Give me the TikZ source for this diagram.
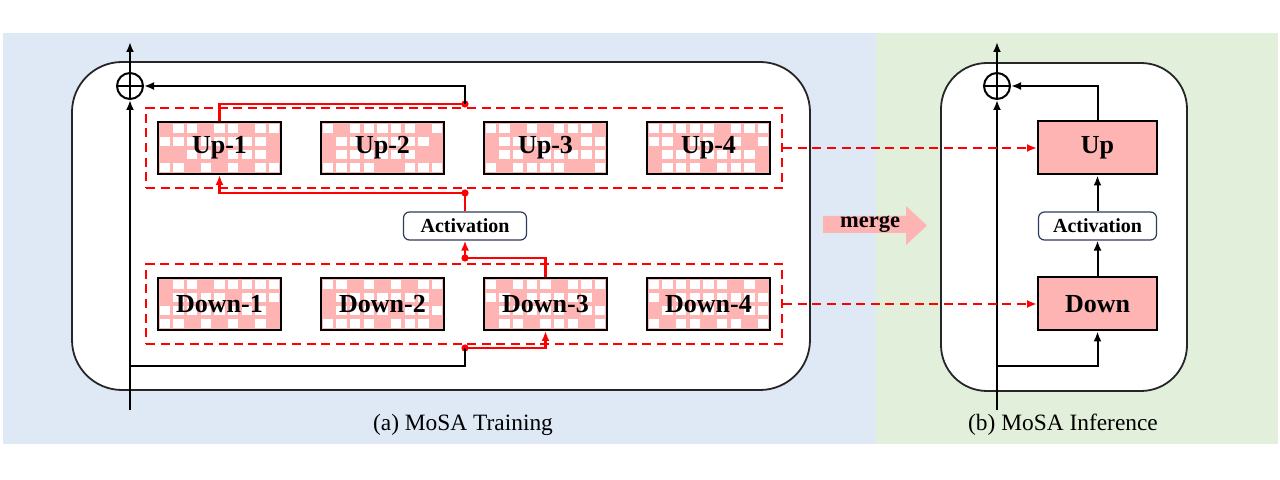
\documentclass[tikz,border=0pt]{standalone}
\usepackage{fontspec}
\setmainfont{Liberation Serif}
\usepackage{tikz}
\usetikzlibrary{arrows.meta, positioning, calc, fit}
\definecolor{bgblue}{HTML}{DEE9F5}
\definecolor{bggreen}{HTML}{E2EFDA}
\definecolor{lrpink}{HTML}{FFB4B4}
\definecolor{cred}{HTML}{FF0000}
\definecolor{cnavy}{HTML}{2F3B5C}
\definecolor{cframe}{HTML}{262626}

% pink/white grid behind a low-rank box: #1,#2 top-left corner, #3 pink cells
\newcommand{\lrgrid}[3]{
  \fill[lrpink] (#1,#2) rectangle ++(123,52);
  \foreach \c in {0,...,8}{
    \foreach \r in {0,...,3}{
      \fill[white] ({#1+\c*13.667+1.6},{#2+\r*13+1.6}) rectangle ++(10.4,9.8);
    }
  }
  \foreach \c/\r in {#3}{
    \fill[lrpink] ({#1+\c*13.667},{#2+\r*13}) rectangle ++(13.667,13);
  }
}

\begin{document}
\begin{tikzpicture}[x=0.5pt, y=-0.5pt,
  lrbox/.style={draw, line width=1pt, minimum width=61.5pt, minimum height=26pt, inner sep=0pt,
    font=\bfseries\fontsize{13}{15}\selectfont},
  actbox/.style={draw=cnavy, line width=0.6pt, rounded corners=3pt, fill=white, minimum width=61.5pt,
    minimum height=14pt, inner sep=0pt, font=\bfseries\fontsize{10}{12}\selectfont},
  addsym/.style={circle, draw, line width=1pt, minimum size=13pt, inner sep=0pt,
    path picture={\draw[line width=1pt] (path picture bounding box.west) -- (path picture bounding box.east)
      (path picture bounding box.north) -- (path picture bounding box.south);}},
  grp/.style={draw=cred, dashed, dash pattern=on 4.5pt off 2.8pt, line width=1.1pt, inner xsep=5.5pt, inner ysep=6.5pt},
  blk/.style={line width=1pt, -{Latex[length=5pt,width=4pt]}},
  rd/.style={cred, line width=1.1pt, -{Latex[length=5pt,width=4pt]}},
  dot/.style={circle, fill=cred, inner sep=0pt, minimum size=3.6pt}]
  \useasboundingbox (0,0) rectangle (1280,480);

  % backgrounds
  \fill[bgblue] (3,33) rectangle (876,444);
  \fill[bggreen] (876,33) rectangle (1278,444);
  \draw[cframe, line width=0.9pt, fill=white, rounded corners=25pt] (72,62) rectangle (810,390);
  \draw[cframe, line width=0.9pt, fill=white, rounded corners=23pt] (941,63) rectangle (1187,391);

  % (a) training: grids
  \lrgrid{158}{122}{0/0,3/0,6/0,8/1,0/2,1/2,4/2,8/2,2/3,4/3,6/3}
  \lrgrid{321}{122}{1/0,7/0,0/1,3/1,8/1,0/2,7/2,8/2,4/3,5/3}
  \lrgrid{484}{122}{2/0,4/0,8/0,0/1,5/1,6/1,0/2,3/2,1/3,6/3,7/3}
  \lrgrid{647}{122}{5/0,2/1,5/1,7/1,0/2,8/2,0/3,4/3,8/3}
  \lrgrid{158}{278}{0/0,3/0,0/1,5/1,8/2,2/3,4/3,6/3,8/3}
  \lrgrid{321}{278}{2/0,4/0,6/0,0/1,8/1,0/2,5/2,4/3,8/3}
  \lrgrid{484}{278}{1/0,5/0,2/1,8/1,0/2,6/2,0/3,3/3,7/3}
  \lrgrid{647}{278}{6/0,8/0,1/1,0/2,6/2,1/3,4/3,7/3}

  \node[lrbox] (up1) at (219.5,148) {Up-1};
  \node[lrbox] (up2) at (382.5,148) {Up-2};
  \node[lrbox] (up3) at (545.5,148) {Up-3};
  \node[lrbox] (up4) at (708.5,148) {Up-4};
  \node[lrbox] (down1) at (219.5,304) {Down-1};
  \node[lrbox] (down2) at (382.5,304) {Down-2};
  \node[lrbox] (down3) at (545.5,304) {Down-3};
  \node[lrbox] (down4) at (708.5,304) {Down-4};
  \node[grp, fit=(up1)(up4)] (upgrp) {};
  \node[grp, fit=(down1)(down4)] (downgrp) {};
  \node[actbox] (actL) at (465,226) {Activation};
  \node[addsym] (addL) at (130,86) {};

  \coordinate (inL) at (130,410);
  \coordinate (outL) at (130,42);
  \coordinate (splitL) at (130,366);
  \node[dot] (dotA) at (465,348) {};
  \node[dot] (dotB) at (465,258) {};
  \node[dot] (dotC) at (465,193) {};
  \node[dot] (dotD) at (465,104) {};

  \draw[blk] (inL) -- (addL.south);
  \draw[blk] (addL.north) -- (outL);
  \draw[line width=1pt] (splitL) -| (dotA.center);
  \draw[rd] (dotA.center) -| (down3.south);
  \draw[cred, line width=1.1pt] (down3.north) |- (dotB.center);
  \draw[rd] (dotB.center) -- (actL.south);
  \draw[cred, line width=1.1pt] (actL.north) -- (dotC.center);
  \draw[rd] (dotC.center) -| (up1.south);
  \draw[cred, line width=1.1pt] (up1.north) |- (dotD.center);
  \draw[blk] (dotD.center) |- (addL.east);

  % merge arrow
  \fill[lrpink] (823,216) -- (906,216) -- (906,206) -- (927,225.5) -- (906,245) -- (906,233) -- (823,233) -- cycle;
  \node[font=\bfseries\fontsize{11.25}{13}\selectfont] (merge) at (870,224) {merge};

  % (b) inference
  \node[lrbox, fill=lrpink, minimum width=59.5pt, minimum height=26.5pt] (up) at (1097.5,148) {Up};
  \node[lrbox, fill=lrpink, minimum width=59.5pt, minimum height=26.5pt] (down) at (1097.5,304) {Down};
  \node[actbox, minimum width=59pt] (actR) at (1097.5,226) {Activation};
  \node[addsym] (addR) at (997,86) {};
  \coordinate (inR) at (997,410);
  \coordinate (outR) at (997,42);
  \coordinate (splitR) at (997,366);

  \draw[blk] (inR) -- (addR.south);
  \draw[blk] (addR.north) -- (outR);
  \draw[blk] (splitR) -| (down.south);
  \draw[blk] (down.north) -- (actR.south);
  \draw[blk] (actR.north) -- (up.south);
  \draw[blk] (up.north) |- (addR.east);

  \draw[rd, dashed, dash pattern=on 4.5pt off 2.8pt] (upgrp.east) -- (up.west);
  \draw[rd, dashed, dash pattern=on 4.5pt off 2.8pt] (downgrp.east) -- (down.west);

  % captions
  \node[font=\fontsize{11.7}{14}\selectfont] (capA) at (463,425) {(a) MoSA Training};
  \node[font=\fontsize{11.7}{14}\selectfont] (capB) at (1063,425) {(b) MoSA Inference};
\end{tikzpicture}
\end{document}
